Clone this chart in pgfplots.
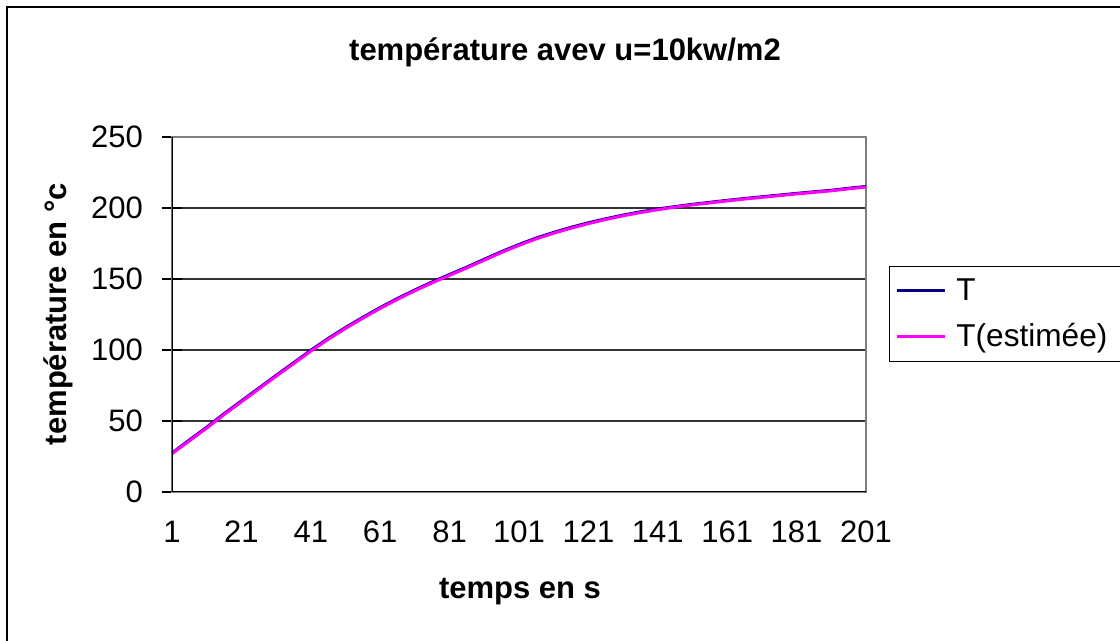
\documentclass[border=0pt]{standalone}
\usepackage{fontspec}
\setmainfont{Liberation Sans}
\usepackage{pgfplots}
\pgfplotsset{compat=1.18}
\definecolor{tnavy}{RGB}{0,0,128}
\definecolor{tmag}{RGB}{255,0,255}
\pgfplotstableread{
t T Test
1 27.4 27.0
6 36.6 36.0
11 45.6 45.0
16 55.1 54.5
21 64.1 63.5
26 73.1 72.5
31 82.1 81.5
36 90.9 90.3
41 99.8 99.2
46 108.1 107.5
51 115.8 115.2
56 123.0 122.4
61 129.9 129.3
66 136.3 135.7
71 142.3 141.7
76 147.9 147.3
81 153.2 152.6
86 158.4 157.8
91 163.9 163.3
96 169.3 168.7
101 174.3 173.7
106 178.9 178.3
111 182.8 182.2
116 186.4 185.8
121 189.6 189.0
126 192.4 191.9
131 195.0 194.5
136 197.3 196.8
141 199.3 198.8
146 201.0 200.6
151 202.6 202.2
156 204.0 203.6
161 205.4 205.0
166 206.7 206.3
171 207.9 207.5
176 209.1 208.7
181 210.3 209.9
186 211.4 211.0
191 212.5 212.1
196 213.9 213.5
201 215.2 214.8
}\datatable
\begin{document}
\begin{tikzpicture}[x=0.5pt,y=0.5pt]
\useasboundingbox (0,0) rectangle (1120,641);
\draw[line width=1pt] (7,0) -- (7,634) -- (1125,634);
\node[font=\fontsize{15.5}{18}\selectfont\bfseries] at (565,589) {température avev u=10kw/m2};
\node[font=\fontsize{15.5}{18}\selectfont\bfseries] at (520,49) {temps en s};
\node[rotate=90,font=\fontsize{15.5}{18}\selectfont\bfseries] at (58,327) {température en °c};
\begin{axis}[
  at={(86pt,74.5pt)}, anchor=south west,
  scale only axis, width=347pt, height=177.5pt,
  xmin=1, xmax=201, ymin=0, ymax=250,
  xtick={1,21,...,201}, ytick={0,50,...,250},
  ytick pos=left,
  /pgf/number format/assume math mode=true,
  tick label style={font=\fontsize{15.5}{18}\selectfont},
  xticklabel style={yshift=-11pt},
  yticklabel style={xshift=-6pt},
  x tick style={draw=none},
  y tick style={black, line width=0.75pt},
  ytick align=center, major tick length=10pt,
  axis line style={draw=gray, line width=0.75pt},
  ymajorgrids, grid style={black!80, line width=0.75pt},
  legend style={at={(rel axis cs:1.033,0.637)}, anchor=north west,
    draw=black, line width=0.5pt, font=\fontsize{15.8}{18}\selectfont,
    inner xsep=3pt, inner ysep=4pt, row sep=6pt,
    nodes={inner xsep=5pt}},
  legend cell align=left,
  legend image code/.code={\draw[#1] (0pt,0pt) -- (24pt,0pt);},
]
\addplot[tnavy, line width=1.5pt] table[x=t,y=T] {\datatable};
\addlegendentry{T}
\addplot[tmag, line width=1.5pt] table[x=t,y=Test] {\datatable};
\addlegendentry{T(estimée)}
\draw[black, line width=0.75pt] (rel axis cs:0,1) -- (rel axis cs:0,0) -- (rel axis cs:1,0);
\end{axis}
\end{tikzpicture}
\end{document}
